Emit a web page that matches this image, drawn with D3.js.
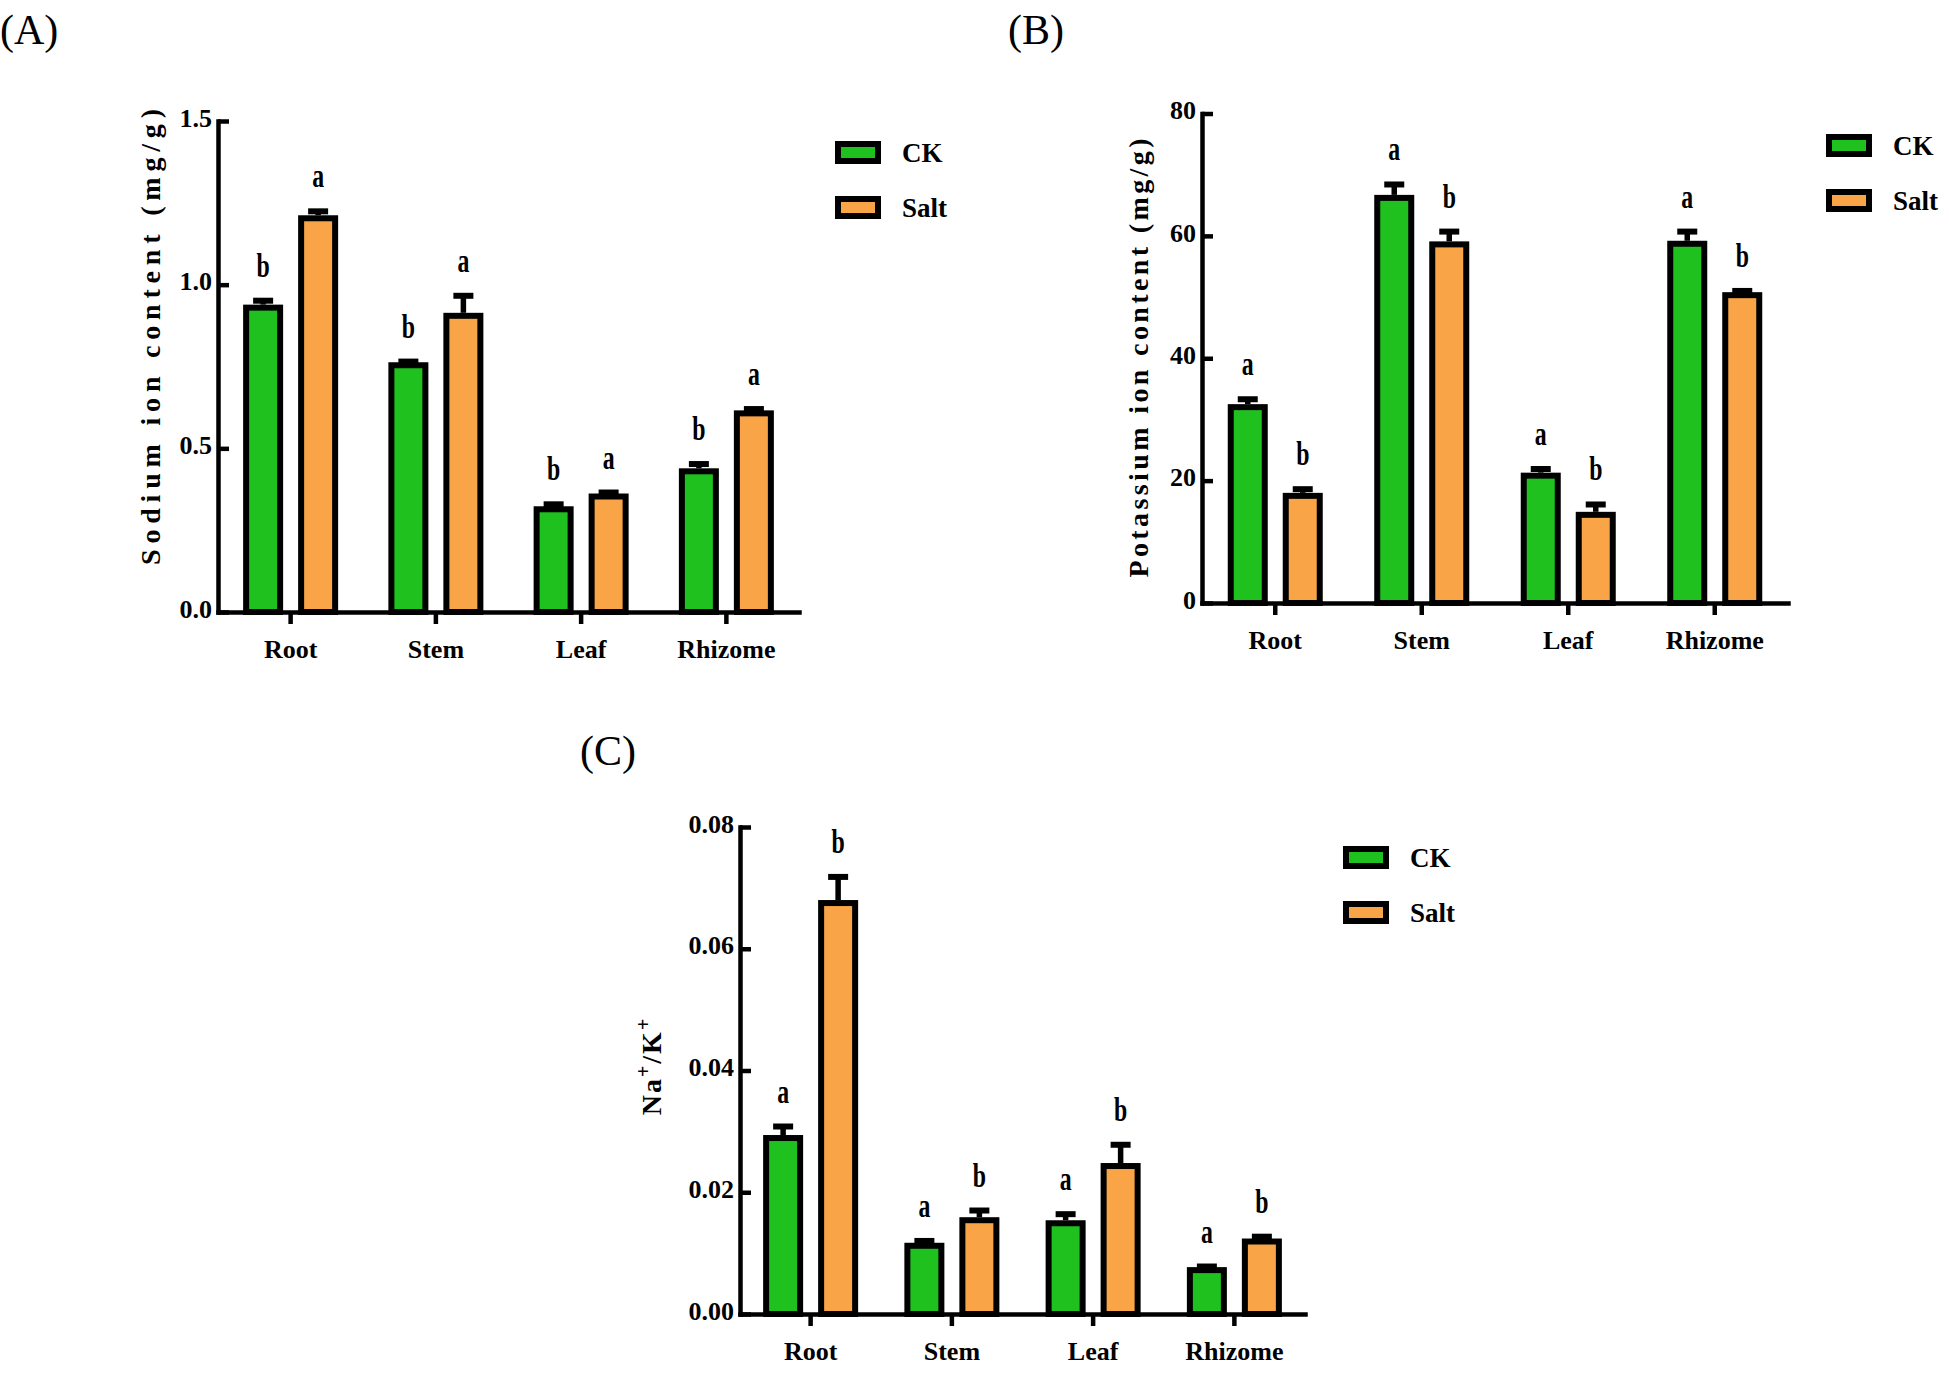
<!DOCTYPE html>
<html>
<head>
<meta charset="utf-8">
<script src="https://cdn.jsdelivr.net/npm/d3@7/dist/d3.min.js"></script>
<style>
  html, body { margin: 0; padding: 0; background: #fff; }
  svg { display: block; }
  text { font-family: "Liberation Serif", "Times New Roman", serif; fill: #000; }
</style>
</head>
<body>
<svg id="chart" width="1949" height="1373"></svg>
<script>
// ---------------- data ----------------
const categories = ["Root", "Stem", "Leaf", "Rhizome"];
const seriesNames = ["CK", "Salt"];
const seriesColors = ["#1fc11f", "#f8a447"];

// (A) Sodium ion content (mg/g)
const sodiumCK      = [0.939, 0.763, 0.323, 0.439];
const sodiumCKErr   = [0.012, 0.002, 0.006, 0.013];
const sodiumSalt    = [1.212, 0.914, 0.362, 0.616];
const sodiumSaltErr = [0.012, 0.052, 0.003, 0.004];
const sodiumCKSig   = ["b", "b", "b", "b"];
const sodiumSaltSig = ["a", "a", "a", "a"];
const sodiumTicks   = [0, 0.5, 1.0, 1.5];

// (B) Potassium ion content (mg/g)
const potassiumCK      = [32.5, 66.7, 21.3, 59.2];
const potassiumCKErr   = [0.8, 1.7, 0.6, 1.5];
const potassiumSalt    = [18.0, 59.1, 14.9, 50.8];
const potassiumSaltErr = [0.6, 1.6, 1.2, 0.2];
const potassiumCKSig   = ["a", "a", "a", "a"];
const potassiumSaltSig = ["b", "b", "b", "b"];
const potassiumTicks   = [0, 20, 40, 60, 80];

// (C) Na+/K+ ratio
const ratioCK      = [0.0294, 0.0117, 0.0154, 0.0077];
const ratioCKErr   = [0.0014, 0.0003, 0.0010, 0.0001];
const ratioSalt    = [0.0680, 0.0159, 0.0248, 0.0124];
const ratioSaltErr = [0.0038, 0.0011, 0.0030, 0.0003];
const ratioCKSig   = ["a", "a", "a", "a"];
const ratioSaltSig = ["b", "b", "b", "b"];
const ratioTicks   = [0, 0.02, 0.04, 0.06, 0.08];

// ---------------- layout ----------------
const panels = [
  {
    label: "(A)", labelX: 0, labelY: 44,
    left: 218, right: 799, yTop: 121, yBottom: 612,
    ticks: sodiumTicks, fmt: d3.format(".1f"),
    title: "Sodium ion content (mg/g)", titleX: 150, titleY: 337, titleLen: 456,
    legendX: 835, legendY: 141,
    values: [sodiumCK, sodiumSalt], errs: [sodiumCKErr, sodiumSaltErr], sig: [sodiumCKSig, sodiumSaltSig]
  },
  {
    label: "(B)", labelX: 1008, labelY: 44,
    left: 1202, right: 1788, yTop: 113.5, yBottom: 603,
    ticks: potassiumTicks, fmt: d3.format("d"),
    title: "Potassium ion content (mg/g)", titleX: 1138, titleY: 358, titleLen: 439,
    legendX: 1826, legendY: 134,
    values: [potassiumCK, potassiumSalt], errs: [potassiumCKErr, potassiumSaltErr], sig: [potassiumCKSig, potassiumSaltSig]
  },
  {
    label: "(C)", labelX: 580, labelY: 765,
    left: 740, right: 1305, yTop: 827, yBottom: 1314,
    ticks: ratioTicks, fmt: d3.format(".2f"),
    title: null, titleX: 651, titleY: 1066,
    legendX: 1343, legendY: 846,
    values: [ratioCK, ratioSalt], errs: [ratioCKErr, ratioSaltErr], sig: [ratioCKSig, ratioSaltSig]
  }
];

const svg = d3.select("#chart");
const BAR_STROKE = 6;
const AXIS_W = 4.5;

function drawPanel(p) {
  const g = svg.append("g");

  const x0 = d3.scaleBand().domain(categories).range([p.left, p.right]).padding(0);
  const groupHalf = 47.5;
  const x1 = d3.scaleBand().domain(seriesNames)
    .range([x0.bandwidth() / 2 - groupHalf, x0.bandwidth() / 2 + groupHalf])
    .paddingInner(0.2727).paddingOuter(0);
  const y = d3.scaleLinear()
    .domain([0, d3.max(p.ticks)])
    .range([p.yBottom, p.yTop]);

  // bars
  seriesNames.forEach((s, si) => {
    const vals = p.values[si], errs = p.errs[si], sigs = p.sig[si];
    const bg = g.append("g");
    categories.forEach((c, ci) => {
      const bx = x0(c) + x1(s);
      const bw = x1.bandwidth();
      const cx = bx + bw / 2;
      const v = vals[ci], e = errs[ci];
      // error bar (stem + cap)
      bg.append("line")
        .attr("x1", cx).attr("x2", cx)
        .attr("y1", y(v)).attr("y2", y(v + e))
        .attr("stroke", "#000").attr("stroke-width", 5.5);
      bg.append("line")
        .attr("x1", cx - 10).attr("x2", cx + 10)
        .attr("y1", y(v + e)).attr("y2", y(v + e))
        .attr("stroke", "#000").attr("stroke-width", 6);
      // bar
      bg.append("rect")
        .attr("x", bx + BAR_STROKE / 2)
        .attr("width", bw - BAR_STROKE)
        .attr("y", y(v) + BAR_STROKE / 2)
        .attr("height", y(0) - y(v) - BAR_STROKE / 2)
        .attr("fill", seriesColors[si])
        .attr("stroke", "#000")
        .attr("stroke-width", BAR_STROKE);
      // significance letter
      const ly = y(v + e) - 3 - 21;
      bg.append("text")
        .attr("transform", `translate(${cx},${ly}) scale(0.85,1.2)`)
        .attr("text-anchor", "middle")
        .attr("font-weight", "bold")
        .attr("font-size", 28)
        .text(sigs[ci]);
    });
  });

  // y axis
  const yAxis = d3.axisLeft(y).tickValues(p.ticks).tickFormat(p.fmt)
    .tickSizeInner(-11).tickSizeOuter(0).tickPadding(6);
  const ya = g.append("g").attr("transform", `translate(${p.left},0)`).call(yAxis);
  ya.select(".domain").attr("stroke-width", AXIS_W).attr("stroke-linecap", "square");
  ya.selectAll(".tick line").attr("stroke-width", AXIS_W);
  ya.selectAll(".tick text")
    .attr("font-family", "'Liberation Serif', 'Times New Roman', serif")
    .attr("font-weight", "bold").attr("font-size", 26).attr("dy", "0.2em");

  // x axis
  const xAxis = d3.axisBottom(x0).tickSizeInner(12).tickSizeOuter(0).tickPadding(16);
  const xa = g.append("g").attr("transform", `translate(0,${p.yBottom})`).call(xAxis);
  xa.select(".domain").attr("stroke-width", AXIS_W).attr("stroke-linecap", "square");
  xa.selectAll(".tick line").attr("stroke-width", AXIS_W);
  xa.selectAll(".tick text")
    .attr("font-family", "'Liberation Serif', 'Times New Roman', serif")
    .attr("font-weight", "bold").attr("font-size", 26);

  // y title
  if (p.title) {
    g.append("text")
      .attr("transform", `translate(${p.titleX},${p.titleY}) rotate(-90)`)
      .attr("text-anchor", "middle")
      .attr("dy", "0.35em")
      .attr("font-weight", "bold")
      .attr("font-size", 28)
      .attr("textLength", p.titleLen)
      .attr("lengthAdjust", "spacing")
      .text(p.title);
  } else {
    const t = g.append("text")
      .attr("transform", `translate(${p.titleX},${p.titleY}) rotate(-90)`)
      .attr("text-anchor", "middle")
      .attr("dy", "0.35em")
      .attr("font-weight", "bold")
      .attr("font-size", 28)
      .attr("letter-spacing", 2);
    t.append("tspan").text("Na");
    t.append("tspan").attr("dy", -11).attr("font-size", 20).text("+");
    t.append("tspan").attr("dy", 11).text("/K");
    t.append("tspan").attr("dy", -11).attr("font-size", 20).text("+");
  }

  // legend
  const lg = g.append("g").attr("transform", `translate(${p.legendX},${p.legendY})`);
  seriesNames.forEach((s, si) => {
    const row = lg.append("g").attr("transform", `translate(0,${si * 55})`);
    row.append("rect")
      .attr("x", 3).attr("y", 3).attr("width", 40).attr("height", 17)
      .attr("fill", seriesColors[si]).attr("stroke", "#000").attr("stroke-width", 6);
    row.append("text")
      .attr("x", 67).attr("y", 11.5).attr("dy", "0.35em")
      .attr("font-weight", "bold").attr("font-size", 27)
      .text(s);
  });

  // panel label
  g.append("text")
    .attr("x", p.labelX).attr("y", p.labelY)
    .attr("font-size", 42)
    .text(p.label);
}

panels.forEach(drawPanel);
</script>
</body>
</html>
